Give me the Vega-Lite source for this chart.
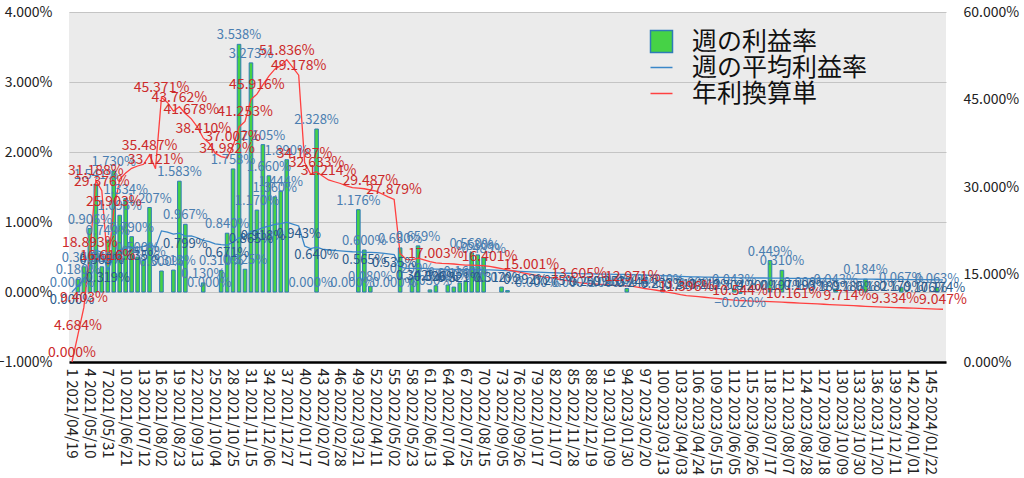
{
"$schema":"https://vega.github.io/schema/vega-lite/v6.json",
"width":877,"height":350,
"autosize":{"type":"none"},
"padding":{"left":69,"top":12,"right":78,"bottom":116},
"background":"white",
"config":{"view":{"fill":"#ebebeb","stroke":null},"font":"Noto Sans CJK JP","text":{"font":"Noto Sans CJK JP"}},
"data":{"values":[
{"k":"1 2021/04/19","b":0,"a":0,"r":0,"lb":1,"la":1,"lr":1},
{"k":"2 2021/04/26","b":0.18,"a":0.09,"r":4.684,"lb":1,"lr":1},
{"k":"3 2021/05/03","b":0.36,"a":0.181,"r":9.403,"lb":1,"lr":1},
{"k":"4 2021/05/10","b":0.906,"a":0.363,"r":18.893,"lb":1,"lr":1},
{"k":"5 2021/05/17","b":1.541,"a":0.6,"r":31.188,"lb":1,"lr":1},
{"k":"6 2021/05/24","b":0.36,"a":0.565,"r":29.376,"lb":1,"la":1,"lr":1},
{"k":"7 2021/05/31","b":0.74,"a":0.319,"r":16.616,"lb":1,"la":1,"lr":1},
{"k":"8 2021/06/07","b":1.73,"a":0.498,"r":25.903,"lb":1,"lr":1},
{"k":"9 2021/06/14","b":1.096,"a":0.602,"r":31.3,"lb":1},
{"k":"10 2021/06/21","b":1.334,"a":0.623,"r":32.4,"lb":1},
{"k":"11 2021/06/28","b":0.79,"a":0.638,"r":33.2,"lb":1},
{"k":"12 2021/07/05","b":0.5,"a":0.635,"r":33.6,"lb":1,"la":1},
{"k":"13 2021/07/12","b":0.45,"a":0.652,"r":33.9,"lb":1},
{"k":"14 2021/07/19","b":1.207,"a":0.682,"r":35.487,"lb":1,"lr":1},
{"k":"15 2021/07/26","b":0,"a":0.637,"r":33.121,"lr":1},
{"k":"16 2021/08/02","b":0.3,"a":0.873,"r":45.371,"lb":1,"lr":1},
{"k":"17 2021/08/09","b":0,"a":0.856,"r":44.5},
{"k":"18 2021/08/16","b":0.313,"a":0.827,"r":43.0,"lb":1},
{"k":"19 2021/08/23","b":1.583,"a":0.842,"r":43.762,"lb":1,"lr":1},
{"k":"20 2021/08/30","b":0.967,"a":0.799,"r":42.6,"lb":1,"la":1},
{"k":"21 2021/09/06","b":0,"a":0.802,"r":41.678,"lr":1},
{"k":"22 2021/09/13","b":0,"a":0.775,"r":40.3},
{"k":"23 2021/09/20","b":0.13,"a":0.739,"r":38.41,"lb":1,"lr":1},
{"k":"24 2021/09/27","b":0,"a":0.721,"r":37.5,"lb":1},
{"k":"25 2021/10/04","b":0,"a":0.688,"r":35.8},
{"k":"26 2021/10/11","b":0.31,"a":0.677,"r":35.2,"lb":1},
{"k":"27 2021/10/18","b":0.84,"a":0.671,"r":34.982,"lb":1,"la":1,"lr":1},
{"k":"28 2021/10/25","b":1.758,"a":0.712,"r":37.007,"lb":1,"lr":1},
{"k":"29 2021/11/01","b":3.538,"a":0.775,"r":40.3,"lb":1},
{"k":"30 2021/11/08","b":0.325,"a":0.793,"r":41.253,"lb":1,"lr":1},
{"k":"31 2021/11/15","b":3.273,"a":0.865,"r":45.0,"lb":1,"la":1},
{"k":"32 2021/11/22","b":1.17,"a":0.883,"r":45.916,"lb":1,"lr":1},
{"k":"33 2021/11/29","b":2.105,"a":0.918,"r":47.5,"lb":1,"la":1},
{"k":"34 2021/12/06","b":1.66,"a":0.942,"r":49.0,"lb":1},
{"k":"35 2021/12/13","b":1.36,"a":0.965,"r":50.2,"lb":1},
{"k":"36 2021/12/20","b":1.444,"a":0.977,"r":50.8,"lb":1},
{"k":"37 2021/12/27","b":1.89,"a":0.997,"r":51.836,"lb":1,"lr":1},
{"k":"38 2022/01/03","b":0,"a":0.971,"r":50.5},
{"k":"39 2022/01/10","b":0,"a":0.943,"r":49.178,"la":1,"lr":1},
{"k":"40 2022/01/17","b":0,"a":0.657,"r":34.187,"lr":1},
{"k":"41 2022/01/24","b":0,"a":0.619,"r":32.2,"lb":1},
{"k":"42 2022/01/31","b":2.328,"a":0.64,"r":32.633,"lb":1,"la":1,"lr":1},
{"k":"43 2022/02/07","b":0,"a":0.613,"r":31.9},
{"k":"44 2022/02/14","b":0,"a":0.6,"r":31.214,"lr":1},
{"k":"45 2022/02/21","b":0,"a":0.594,"r":30.9},
{"k":"46 2022/02/28","b":0,"a":0.588,"r":30.6},
{"k":"47 2022/03/07","b":0,"a":0.581,"r":30.2},
{"k":"48 2022/03/14","b":0,"a":0.575,"r":29.9,"lb":1},
{"k":"49 2022/03/21","b":1.176,"a":0.573,"r":29.8,"lb":1},
{"k":"50 2022/03/28","b":0.6,"a":0.565,"r":29.7,"lb":1,"la":1},
{"k":"51 2022/04/04","b":0.08,"a":0.567,"r":29.487,"lb":1,"lr":1},
{"k":"52 2022/04/11","b":0,"a":0.563,"r":29.3},
{"k":"53 2022/04/18","b":0,"a":0.554,"r":28.8},
{"k":"54 2022/04/25","b":0,"a":0.544,"r":28.3},
{"k":"55 2022/05/02","b":0,"a":0.535,"r":27.879,"lb":1,"la":1,"lr":1},
{"k":"56 2022/05/09","b":0.63,"a":0.358,"r":18.6,"lb":1},
{"k":"57 2022/05/16","b":0,"a":0.338,"r":17.6},
{"k":"58 2022/05/23","b":0.2,"a":0.337,"r":17.5,"lb":1},
{"k":"59 2022/05/30","b":0.659,"a":0.342,"r":17.8,"lb":1,"la":1},
{"k":"60 2022/06/06","b":0,"a":0.337,"r":17.5},
{"k":"61 2022/06/13","b":0.03,"a":0.331,"r":17.2,"lb":1},
{"k":"62 2022/06/20","b":0.09,"a":0.326,"r":17.003,"lb":1,"la":1,"lr":1},
{"k":"63 2022/06/27","b":0,"a":0.325,"r":16.9},
{"k":"64 2022/07/04","b":0.1,"a":0.324,"r":16.85,"lb":1},
{"k":"65 2022/07/11","b":0.07,"a":0.323,"r":16.8},
{"k":"66 2022/07/18","b":0.13,"a":0.321,"r":16.7,"lb":1,"la":1},
{"k":"67 2022/07/25","b":0.16,"a":0.319,"r":16.6,"lb":1},
{"k":"68 2022/08/01","b":0.56,"a":0.319,"r":16.6,"lb":1},
{"k":"69 2022/08/08","b":0.53,"a":0.318,"r":16.55,"lb":1},
{"k":"70 2022/08/15","b":0.489,"a":0.317,"r":16.5,"lb":1},
{"k":"71 2022/08/22","b":0,"a":0.315,"r":16.401,"lr":1},
{"k":"72 2022/08/29","b":0,"a":0.312,"r":16.2,"la":1},
{"k":"73 2022/09/05","b":0.07,"a":0.308,"r":16.0,"lb":1},
{"k":"74 2022/09/12","b":0.02,"a":0.304,"r":15.8},
{"k":"75 2022/09/19","b":0,"a":0.3,"r":15.6},
{"k":"76 2022/09/26","b":0,"a":0.296,"r":15.4},
{"k":"77 2022/10/03","b":0,"a":0.292,"r":15.2,"la":1},
{"k":"78 2022/10/10","b":0,"a":0.288,"r":15.001,"lr":1},
{"k":"79 2022/10/17","b":0,"a":0.285,"r":14.8,"lb":1},
{"k":"80 2022/10/24","b":0,"a":0.281,"r":14.6},
{"k":"81 2022/10/31","b":0,"a":0.278,"r":14.45},
{"k":"82 2022/11/07","b":0,"a":0.275,"r":14.3,"la":1},
{"k":"83 2022/11/14","b":0,"a":0.271,"r":14.1},
{"k":"84 2022/11/21","b":0,"a":0.268,"r":13.95},
{"k":"85 2022/11/28","b":0,"a":0.265,"r":13.8,"lb":1},
{"k":"86 2022/12/05","b":0,"a":0.262,"r":13.605,"lr":1},
{"k":"87 2022/12/12","b":0,"a":0.26,"r":13.5},
{"k":"88 2022/12/19","b":0,"a":0.259,"r":13.45,"la":1},
{"k":"89 2022/12/26","b":0,"a":0.257,"r":13.35},
{"k":"90 2023/01/02","b":0,"a":0.256,"r":13.3},
{"k":"91 2023/01/09","b":0,"a":0.254,"r":13.2,"lb":1},
{"k":"92 2023/01/16","b":0,"a":0.253,"r":13.15,"la":1},
{"k":"93 2023/01/23","b":0,"a":0.252,"r":13.1},
{"k":"94 2023/01/30","b":0.05,"a":0.251,"r":13.05,"lb":1},
{"k":"95 2023/02/06","b":0,"a":0.249,"r":12.971,"lr":1},
{"k":"96 2023/02/13","b":0,"a":0.246,"r":12.8,"la":1},
{"k":"97 2023/02/20","b":0,"a":0.242,"r":12.6},
{"k":"98 2023/02/27","b":0,"a":0.239,"r":12.45},
{"k":"99 2023/03/06","b":0,"a":0.237,"r":12.3},
{"k":"100 2023/03/13","b":0.04,"a":0.233,"r":12.1,"lb":1,"la":1},
{"k":"101 2023/03/20","b":0,"a":0.23,"r":11.95},
{"k":"102 2023/03/27","b":0,"a":0.226,"r":11.75},
{"k":"103 2023/04/03","b":0,"a":0.222,"r":11.55},
{"k":"104 2023/04/10","b":0,"a":0.219,"r":11.396,"la":1,"lr":1},
{"k":"105 2023/04/17","b":0,"a":0.217,"r":11.3},
{"k":"106 2023/04/24","b":0,"a":0.215,"r":11.2,"lb":1},
{"k":"107 2023/05/01","b":0,"a":0.213,"r":11.1},
{"k":"108 2023/05/08","b":0,"a":0.212,"r":11.0,"la":1},
{"k":"109 2023/05/15","b":0,"a":0.21,"r":10.9},
{"k":"110 2023/05/22","b":0,"a":0.208,"r":10.8},
{"k":"111 2023/05/29","b":0,"a":0.206,"r":10.7},
{"k":"112 2023/06/05","b":0.043,"a":0.204,"r":10.6,"lb":1,"la":1},
{"k":"113 2023/06/12","b":-0.02,"a":0.203,"r":10.544,"lb":1,"lr":1},
{"k":"114 2023/06/19","b":0,"a":0.202,"r":10.5},
{"k":"115 2023/06/26","b":0,"a":0.201,"r":10.45},
{"k":"116 2023/07/03","b":0,"a":0.2,"r":10.4,"la":1},
{"k":"117 2023/07/10","b":0,"a":0.2,"r":10.4},
{"k":"118 2023/07/17","b":0.449,"a":0.199,"r":10.35,"lb":1},
{"k":"119 2023/07/24","b":0,"a":0.198,"r":10.3},
{"k":"120 2023/07/31","b":0.31,"a":0.197,"r":10.25,"lb":1,"la":1},
{"k":"121 2023/08/07","b":0,"a":0.196,"r":10.2},
{"k":"122 2023/08/14","b":0,"a":0.195,"r":10.161,"lr":1},
{"k":"123 2023/08/21","b":0,"a":0.194,"r":10.1},
{"k":"124 2023/08/28","b":0,"a":0.193,"r":10.05,"lb":1,"la":1},
{"k":"125 2023/09/04","b":0,"a":0.192,"r":10.0},
{"k":"126 2023/09/11","b":0,"a":0.191,"r":9.95},
{"k":"127 2023/09/18","b":0,"a":0.19,"r":9.9},
{"k":"128 2023/09/25","b":0,"a":0.189,"r":9.85,"la":1},
{"k":"129 2023/10/02","b":0.043,"a":0.188,"r":9.8,"lb":1},
{"k":"130 2023/10/09","b":0,"a":0.188,"r":9.75},
{"k":"131 2023/10/16","b":0,"a":0.187,"r":9.714,"lr":1},
{"k":"132 2023/10/23","b":0,"a":0.186,"r":9.65,"la":1},
{"k":"133 2023/10/30","b":0,"a":0.185,"r":9.6},
{"k":"134 2023/11/06","b":0.184,"a":0.184,"r":9.55,"lb":1},
{"k":"135 2023/11/13","b":0,"a":0.183,"r":9.5},
{"k":"136 2023/11/20","b":0,"a":0.182,"r":9.45,"la":1},
{"k":"137 2023/11/27","b":0,"a":0.181,"r":9.4},
{"k":"138 2023/12/04","b":0,"a":0.18,"r":9.37},
{"k":"139 2023/12/11","b":0,"a":0.18,"r":9.334,"lr":1},
{"k":"140 2023/12/18","b":0.067,"a":0.179,"r":9.3,"lb":1,"la":1},
{"k":"141 2023/12/25","b":0,"a":0.178,"r":9.26},
{"k":"142 2024/01/01","b":0,"a":0.177,"r":9.22},
{"k":"143 2024/01/08","b":0,"a":0.177,"r":9.18},
{"k":"144 2024/01/15","b":0,"a":0.176,"r":9.14,"la":1},
{"k":"145 2024/01/22","b":0,"a":0.175,"r":9.1},
{"k":"146 2024/01/29","b":0.063,"a":0.174,"r":9.07,"lb":1},
{"k":"147 2024/02/05","b":0,"a":0.174,"r":9.047,"la":1,"lr":1}
]},
"encoding":{"x":{"field":"k","type":"ordinal","sort":null,"scale":{"paddingInner":0,"paddingOuter":0},
 "axis":{"title":null,"labelAngle":90,"ticks":false,"domainColor":"#000000","domainWidth":2.5,"labelFontSize":15,"labelColor":"#222222","labelPadding":6,"labelOverlap":false,"grid":false,"labelFont":"Noto Sans CJK JP",
 "labelExpr":"(toNumber(split(datum.value,' ')[0]) - 1) % 3 == 0 ? datum.value : ''"}}},
"layer":[
{"mark":{"type":"bar","width":{"band":0.6},"stroke":"#2e7bb7","strokeWidth":1,"strokeOpacity":{"expr":"datum.b == 0 ? 0 : 1"}},
 "encoding":{"y":{"field":"b","type":"quantitative","scale":{"domain":[-1,4],"nice":false,"zero":false},
   "axis":{"title":null,"orient":"left","values":[-1,0,1,2,3,4],"labelExpr":"format(datum.value,'.3f')+'%'","grid":true,"gridColor":"#c4c4c4","gridWidth":1,"domain":false,"ticks":false,"labelPadding":17,"labelFontSize":14,"labelColor":"#222222","labelFont":"Noto Sans CJK JP"}},
  "fill":{"datum":"週の利益率","scale":{"domain":["週の利益率"],"range":["#46d246"]},
   "legend":{"title":null,"orient":"none","legendX":580,"legendY":17,"symbolType":"square","symbolSize":484,"symbolStrokeColor":"#2e7bb7","symbolStrokeWidth":1.5,"labelFontSize":25,"labelFont":"Noto Sans CJK JP","labelColor":"#111111","labelOffset":18,"labelLimit":400}}}},
{"mark":{"type":"line","strokeWidth":1.3},
 "encoding":{"y":{"field":"a","type":"quantitative","scale":{"domain":[-1,4],"nice":false,"zero":false},"axis":null},
  "stroke":{"datum":"週の平均利益率","scale":{"domain":["週の平均利益率","年利換算単"],"range":["#3a87c8","#ff4040"]},
   "legend":{"title":null,"orient":"none","legendX":580,"legendY":43,"symbolType":"stroke","symbolSize":484,"symbolStrokeWidth":1.5,"labelFontSize":25,"labelFont":"Noto Sans CJK JP","labelColor":"#111111","labelOffset":18,"rowPadding":-3,"labelLimit":400}}}},
{"mark":{"type":"line","strokeWidth":1.3},
 "encoding":{"y":{"field":"r","type":"quantitative","scale":{"domain":[0,60],"nice":false},
   "axis":{"title":null,"orient":"right","values":[0,15,30,45,60],"labelExpr":"format(datum.value,'.3f')+'%'","grid":false,"domain":false,"ticks":false,"labelPadding":17,"labelFontSize":14,"labelColor":"#222222","labelFont":"Noto Sans CJK JP"}},
  "stroke":{"datum":"年利換算単"}}},
{"transform":[{"filter":"datum.lb"}],
 "mark":{"type":"text","fontSize":13,"color":"#4a7db0","baseline":{"expr":"datum.b < 0 ? 'top' : 'bottom'"},"dy":{"expr":"datum.b < 0 ? 4 : -2"},"text":{"expr":"format(datum.b,'.3f')+'%'"}},
 "encoding":{"y":{"field":"b","type":"quantitative","scale":{"domain":[-1,4],"nice":false,"zero":false},"axis":null}}},
{"transform":[{"filter":"datum.la"}],
 "mark":{"type":"text","fontSize":13,"color":"#2b5b8c","baseline":"top","dy":2,"text":{"expr":"format(datum.a,'.3f')+'%'"}},
 "encoding":{"y":{"field":"a","type":"quantitative","scale":{"domain":[-1,4],"nice":false,"zero":false},"axis":null}}},
{"transform":[{"filter":"datum.lr"}],
 "mark":{"type":"text","fontSize":14,"color":"#cc2a2a","baseline":"bottom","dy":-2,"text":{"expr":"format(datum.r,'.3f')+'%'"}},
 "encoding":{"y":{"field":"r","type":"quantitative","scale":{"domain":[0,60],"nice":false},"axis":null}}}
],
"resolve":{"scale":{"y":"independent"}}
}
